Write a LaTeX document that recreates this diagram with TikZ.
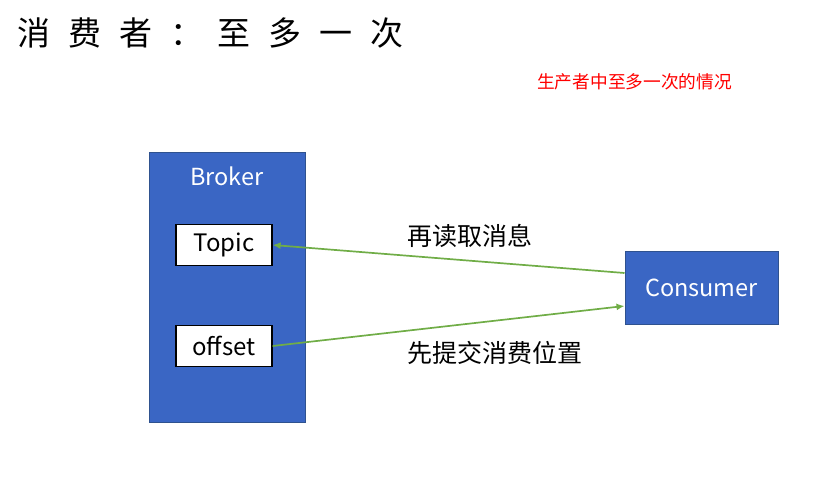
\documentclass[tikz,border=0pt]{standalone}
\usepackage{fontspec}
\setmainfont{Noto Sans CJK SC}
\newfontfamily\cjk{Noto Sans CJK SC}
\usetikzlibrary{arrows.meta}
\definecolor{boxblue}{HTML}{3A66C4}
\definecolor{boxedge}{HTML}{2F528F}
\definecolor{arrgreen}{HTML}{70AD47}
\definecolor{notered}{HTML}{FF0000}
\newcommand\tc[2]{\makebox[#1pt][l]{#2}}
\begin{document}
\begin{tikzpicture}[x=1pt,y=-1pt,
  bluebox/.style={draw=boxedge,fill=boxblue,line width=1pt},
  whitebox/.style={draw=black,fill=white,line width=1.3pt,minimum width=96pt,minimum height=41pt,inner sep=0pt,font=\fontsize{24}{24}\selectfont},
  flow/.style={draw=arrgreen,line width=1.7pt,-{Latex[length=8pt,width=7pt]}},
  lbl/.style={font=\fontsize{25}{25}\selectfont,anchor=west,inner sep=0pt}]
\useasboundingbox (0,0) rectangle (831,484);
\node[anchor=west,inner sep=0pt,font=\fontsize{33}{33}\selectfont] (title) at (17,33)
  {\tc{51}{消}\tc{51}{费}\tc{51}{者}\tc{47}{：}\tc{51}{至}\tc{51}{多}\tc{51}{一}次};
\node[anchor=west,inner sep=0pt,text=notered,font=\fontsize{17.7}{17.7}\selectfont] (note) at (537,82) {生产者中至多一次的情况};
\node[bluebox,minimum width=156pt,minimum height=269pt,inner sep=0pt] (broker) at (227,287.5) {};
\node[text=white,font=\fontsize{23.5}{23.5}\selectfont,inner sep=0pt] (brokerlbl) at (227,176) {Broker};
\node[whitebox] (topic) at (224,245) {Topic};
\node[whitebox] (offset) at (224,346) {offset};
\node[bluebox,minimum width=153pt,minimum height=72pt,inner sep=0pt,text=white,font=\fontsize{23.5}{23.5}\selectfont] (consumer) at (701.5,288) {Consumer};
\draw[flow] ([yshift=15pt]consumer.west) -- (topic.east);
\draw[flow] (offset.east) -- ([yshift=-18pt]consumer.west);
\node[lbl] (l1) at (407,236) {再读取消息};
\node[lbl] (l2) at (407,353) {先提交消费位置};
\end{tikzpicture}
\end{document}
